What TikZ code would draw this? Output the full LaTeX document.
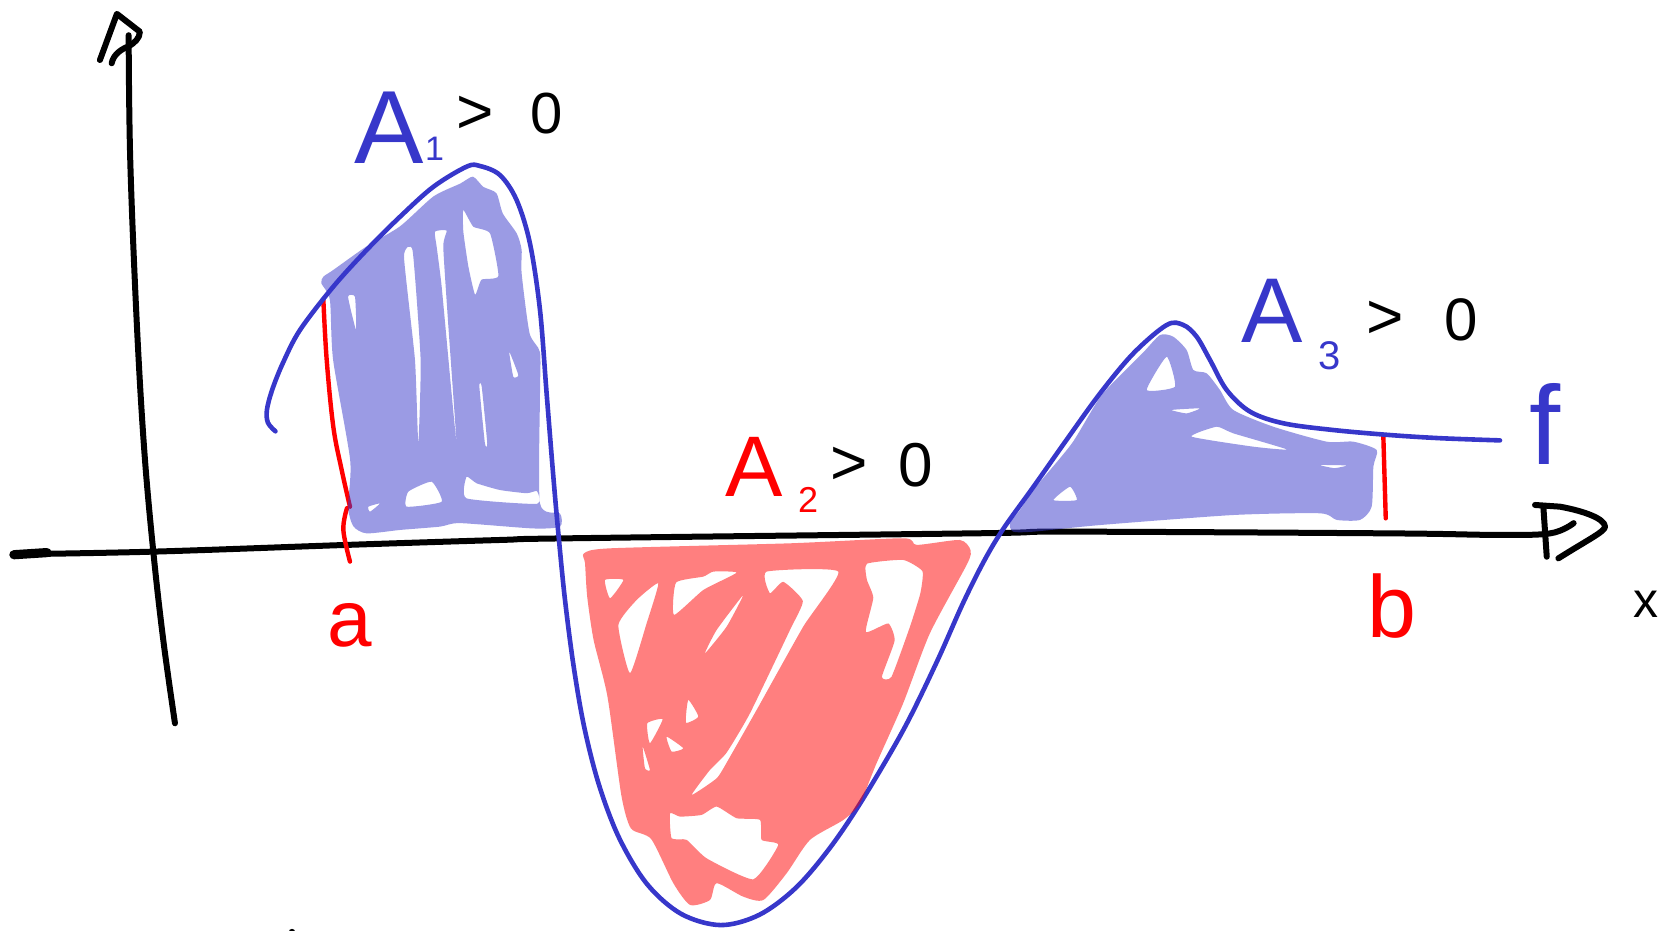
\documentclass[tikz,border=0pt]{standalone}
\usepackage{fontspec}
\setmainfont{Liberation Sans}
\definecolor{fcurve}{RGB}{55,55,202}
\definecolor{tickred}{RGB}{255,0,0}
\tikzset{
  axisline/.style={line width=3pt, line cap=round, line join=round, black},
  curveline/.style={line width=2.3pt, line cap=round, line join=round, fcurve},
  tickline/.style={line width=2.2pt, line cap=round, line join=round, tickred},
  bluehl/.style={fill=fcurve, fill opacity=0.5, even odd rule},
  redhl/.style={fill=tickred, fill opacity=0.5, even odd rule},
  lbl/.style={inner sep=0pt, outer sep=0pt},
}
\begin{document}
\begin{tikzpicture}[x=0.5338pt,y=-0.5338pt]
\useasboundingbox (0,0) rectangle (1568,872);

% ---------- axes ----------
\draw[axisline] plot[smooth, tension=0.6] coordinates {(12.5,519.2) (144,516.7) (325,510.4) (468,505.8) (534,504.2) (918,499.5) (1000,498) (1302,499.6) (1400,501) (1452,499.6) (1474,490)};
\draw[axisline, line width=4.6pt] (13,519.6) -- (44,517.6);
\draw[axisline] (1437.8,473) -- (1461.3,474.6) .. controls (1485,479) and (1503,486) .. (1503.4,493.3) .. controls (1503,498) and (1490,504) .. (1459.7,523);
\draw[axisline] (1445.7,476) -- (1448.8,521.5);
\draw[axisline] plot[smooth, tension=0.6] coordinates {(120.5,33) (122,150) (128,300) (135,420) (143.6,516.7) (153,600) (163.9,677.5)};
\draw[axisline] (93.6,56.2) -- (109.5,13) -- (131,29.7) .. controls (131,36) and (126,40) .. (120.2,43.7);
\draw[axisline] (104.6,59.3) .. controls (106,52) and (112,47) .. (119,44);
\fill (273.5,873) circle (3);

% ---------- bounds a and b ----------
\draw[tickline] plot[smooth, tension=0.6] coordinates {(302.9,281) (306,337) (312.2,399.7) (320,440) (327.8,474.6)};
\draw[tickline] plot[smooth, tension=0.6] coordinates {(325,476) (321.6,496.4) (327.8,526)};
\draw[tickline] (1295.7,407.5) -- (1298,485.5);

% ---------- the curve f ----------
\draw[curveline] plot[smooth, tension=0.55] coordinates {
 (258,404) (251,396) (250,384) (255,365) (265,340) (281,309.1) (312.2,268.5) (343.4,234.2) (374.7,203) (406,174.9) (437.1,156.1) (449.6,155.5) (468.3,164) (483.9,187.4) (496.4,228) (505.8,290.4) (512,368.5) (518.3,446.5) (523,499.6) (529,560) (537,622) (547,680) (561,735) (580,785) (606,828) (638,856) (675,866.5) (711,857) (745,832) (776,796) (806,752) (846,684) (877,621) (902,565) (922,525) (940,495) (968,456) (999,412) (1030.4,368.5) (1061.6,331) (1092.8,304.4) (1108.4,304.4) (1120.9,315.4) (1133.4,337.2) (1149,365.3) (1170.9,385.6) (1202.1,396.5) (1248.9,402.8) (1302,407.5) (1350,410.5) (1405,412.5)};

% ---------- area A1 (blue) ----------
\fill[bluehl]
 plot[smooth cycle, tension=0.4] coordinates {(302.9,259.2) (312,253) (343,231) (374.7,212) (406,184) (431,172) (443,165.5) (452.7,175) (465,181) (471,200) (484,218.6) (488.6,234) (488.6,256) (496,312) (505.8,330) (505.8,368.5) (505.8,471.5) (524.5,481) (524.5,493.3) (499.5,495) (430.9,490) (412,493.3) (374.7,496.4) (343.4,499.6) (331,493) (326,474.6) (328,431) (312,337) (309,281) (301,265.4)}
 plot[smooth cycle, tension=0.3] coordinates {(326,278) (332.5,278) (333.5,309)}
 plot[smooth cycle, tension=0.3] coordinates {(378.4,240.4) (386.5,234.8) (394,337.2) (391.8,415.3) (388.7,337.2)}
 plot[smooth cycle, tension=0.3] coordinates {(407.4,217) (418.4,216) (415.2,231) (420,306) (427.7,415.3) (423,368.5) (413.7,268.5) (409,231)}
 plot[smooth cycle, tension=0.3] coordinates {(434,196.7) (443.3,212.3) (459,218.6) (466.8,258.6) (451,262) (445,276) (438.7,249.6) (434,217)}
 plot[smooth cycle, tension=0.3] coordinates {(449,362) (451.2,362) (456.4,415.3) (454.2,415.3)}
 plot[smooth cycle, tension=0.3] coordinates {(477,329.4) (485.5,351.3) (480.8,352.9)}
 plot[smooth cycle, tension=0.3] coordinates {(382.5,460.5) (404.3,451.2) (413.7,470) (380.9,474.6)}
 plot[smooth cycle, tension=0.3] coordinates {(437,446.5) (446.5,452.7) (468.3,459) (493.3,462) (503,460) (503,472) (437,466.8)}
 plot[smooth cycle, tension=0.3] coordinates {(345,474.6) (356,471.5) (346.6,479.3)};

% ---------- area A2 (red) ----------
\fill[redhl]
 plot[smooth cycle, tension=0.4] coordinates {(547,518.3) (571.4,513.6) (740,508.9) (846,504.2) (858.6,510.4) (899,505.8) (909,515) (906,528) (871,593.2) (846,658.7) (821,715) (805.5,752.4) (790,768) (758.7,786.7) (736.8,818) (715,843) (696,839.8) (671.3,827.3) (665,843) (646.3,847.6) (630.7,827.3) (610,786) (591,776) (582,745) (569,652.5) (556,599.4) (550,558.8) (548,527.6)}
 plot[smooth cycle, tension=0.3] coordinates {(566.7,543.2) (583.9,543.2) (571.4,560.4)}
 plot[smooth cycle, tension=0.3] coordinates {(579.2,585.4) (596.3,562) (616.6,546.4) (605.7,583.8) (590.1,630.6)}
 plot[smooth cycle, tension=0.3] coordinates {(633.2,545.7) (658.8,540.1) (668.2,535.4) (690,536.4) (658.8,552.6) (631.3,576)}
 plot[smooth cycle, tension=0.3] coordinates {(696.2,557.3) (680.6,587) (660.3,612) (671.3,590)}
 plot[smooth cycle, tension=0.3] coordinates {(718.1,535.4) (785.2,535.4) (752.4,586.9) (708.7,665) (682,712) (671.3,729) (647.9,744.6) (665,721.2) (680.6,705) (702.5,668.1) (740,590) (752,563) (733.7,545) (721.2,555.7)}
 plot[smooth cycle, tension=0.3] coordinates {(644.7,655.6) (654.1,671.2) (642.5,676.9)}
 plot[smooth cycle, tension=0.3] coordinates {(606.3,677.5) (620.7,673.7) (608.8,696.2)}
 plot[smooth cycle, tension=0.3] coordinates {(624.4,690) (640,700.9) (629.1,704)}
 plot[smooth cycle, tension=0.3] coordinates {(602,699.3) (608.8,721.2) (604.1,719.6)}
 plot[smooth cycle, tension=0.3] coordinates {(812,528) (846,524.5) (864,535) (862,556) (852,588) (835,634) (826,634) (838,600) (832,584) (811,592) (818,560) (812,543)}
 plot[smooth cycle, tension=0.3] coordinates {(629.1,785.2) (643.2,786.7) (661.9,804) (705.6,823.6) (729,791.4) (713.4,786.7) (711.9,768) (690,766.4) (671.3,755.5) (657.2,763.3) (636.9,764.9) (627.6,761.8)};

% ---------- area A3 (blue) ----------
\fill[bluehl]
 plot[smooth cycle, tension=0.4] coordinates {(946,490.2) (955.4,477.7) (967.9,459) (1004,415.3) (1032,370) (1070,331) (1086.6,313.8) (1099,315.4) (1111.5,327.9) (1117.8,346.6) (1130.3,349.7) (1142.7,365.3) (1155.2,384) (1192.7,399.7) (1242.7,413.7) (1267.6,413.7) (1289.5,421.5) (1286.4,437.1) (1284.8,474.6) (1273.9,487) (1252,487) (1236.4,480.8) (1155.2,482.4) (1030.4,491.8) (968,498) (949,498)}
 plot[smooth cycle, tension=0.3] coordinates {(1092.8,334.1) (1074.1,365.3) (1100.6,362.2)}
 plot[smooth cycle, tension=0.3] coordinates {(1097.5,384) (1124,382.5) (1111.5,387.2)}
 plot[smooth cycle, tension=0.3] coordinates {(1116.2,409) (1139.6,399.7) (1155.2,405.9) (1205.2,420.9) (1174,418.4)}
 plot[smooth cycle, tension=0.3] coordinates {(1236.4,435.6) (1261.4,436) (1250,438.5)}
 plot[smooth cycle, tension=0.3] coordinates {(986.7,468.4) (1002.3,455.9) (1008.5,468.4)};

% ---------- labels ----------
\node[lbl, text=fcurve, font=\fontsize{52}{52}\selectfont] (A1) at (365,120) {A};
\node[lbl, text=fcurve, font=\fontsize{17}{17}\selectfont] (A1s) at (407,139) {1};
\node[lbl, font=\fontsize{32}{32}\selectfont] (A1gt) at (445,108) {>};
\node[lbl, font=\fontsize{29}{29}\selectfont] (A1z) at (512,106) {0};

\node[lbl, text=tickred, font=\fontsize{43}{43}\selectfont] (A2) at (706,437) {A};
\node[lbl, text=tickred, font=\fontsize{18}{18}\selectfont] (A2s) at (757,468) {2};
\node[lbl, font=\fontsize{32}{32}\selectfont] (A2gt) at (795,436) {>};
\node[lbl, font=\fontsize{31}{31}\selectfont] (A2z) at (858,436) {0};

\node[lbl, text=fcurve, font=\fontsize{46}{46}\selectfont] (A3) at (1192,291) {A};
\node[lbl, text=fcurve, font=\fontsize{20}{20}\selectfont] (A3s) at (1245.5,333) {3};
\node[lbl, font=\fontsize{32}{32}\selectfont] (A3gt) at (1297,300) {>};
\node[lbl, font=\fontsize{30}{30}\selectfont] (A3z) at (1369,300) {0};

\node[lbl, text=tickred, font=\fontsize{40}{40}\selectfont] (la) at (327.7,586) {a};
\node[lbl, text=tickred, font=\fontsize{44}{44}\selectfont] (lb) at (1304,568) {b};
\node[lbl, font=\fontsize{25}{25}\selectfont] (lx) at (1542,566) {x};
\node[lbl, text=fcurve, font=\fontsize{56}{56}\selectfont] (lf) at (1447,397) {f};
\end{tikzpicture}
\end{document}
